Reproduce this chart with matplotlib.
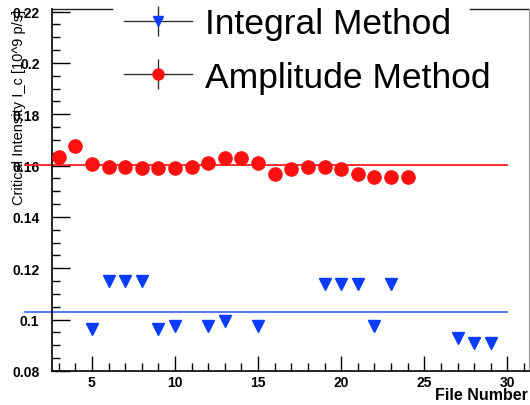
import matplotlib.pyplot as plt
from matplotlib.lines import Line2D

plt.rcParams['font.family'] = ['Liberation Sans', 'DejaVu Sans']

# amplitude method
amp_files = [3, 4, 5, 6, 7, 8, 9, 10, 11, 12, 13, 14, 15, 16, 17, 18, 19, 20, 21, 22, 23, 24]
amp_values = [0.1635, 0.1675, 0.1607, 0.1596, 0.1596, 0.1591, 0.1591, 0.1591, 0.1596, 0.1609,
              0.1630, 0.1630, 0.1609, 0.1568, 0.1587, 0.1593, 0.1593, 0.1587, 0.1568, 0.1557,
              0.1557, 0.1557]
amp_fit = 0.1603

# integral method
int_files = [5, 6, 7, 8, 9, 10, 12, 13, 15, 19, 20, 21, 22, 23, 27, 28, 29]
int_values = [0.0962, 0.1151, 0.1151, 0.1151, 0.0965, 0.0975, 0.0975, 0.0995, 0.0975,
              0.1138, 0.1138, 0.1138, 0.0975, 0.1138, 0.0930, 0.0911, 0.0911]
int_fit = 0.1028

fit_range = [1, 30]

red = '#ff1010'
blue = '#0a3cff'

fig = plt.figure(figsize=(5.3, 4.06), dpi=100)
ax = fig.add_axes([52/530, 34/406, 477/530, 362/406])

ax.plot(fit_range, [amp_fit, amp_fit], color='#ff2020', lw=1.3, clip_on=False, zorder=2)
ax.plot(fit_range, [int_fit, int_fit], color='#3a60ff', lw=1.2, clip_on=False, zorder=2)
ax.plot(amp_files, amp_values, 'o', color=red, ms=9.5, mec=red, zorder=3)
ax.plot(int_files, int_values, 'v', color=blue, ms=9, mec=blue, zorder=3)

ax.set_xlim(2.6, 31.3)
ax.set_ylim(0.08, 0.221)
ax.set_xticks([5, 10, 15, 20, 25, 30])
ax.set_xticks(range(3, 32), minor=True)
ax.set_yticks([0.08, 0.1, 0.12, 0.14, 0.16, 0.18, 0.2, 0.22])
ax.set_yticklabels(['0.08', '0.1', '0.12', '0.14', '0.16', '0.18', '0.2', '0.22'])
ax.set_yticks([0.08 + 0.005 * i for i in range(29)], minor=True)
ax.tick_params(which='both', direction='in', top=False, right=False, labelsize=10,
               width=1, color='black')
for lab in ax.get_xticklabels() + ax.get_yticklabels():
    lab.set_fontweight('bold')
ax.tick_params(axis='y', which='major', length=13, pad=9)
ax.tick_params(axis='y', which='minor', length=6)
ax.tick_params(axis='x', which='major', length=11, pad=3)
ax.tick_params(axis='x', which='minor', length=6)
for s in ['left', 'bottom']:
    ax.spines[s].set_color('black')
    ax.spines[s].set_linewidth(1.2)
ax.spines['top'].set_visible(False)
ax.spines['right'].set_color('#999999')
# top frame, broken where the legend sits
ax.plot([0, 0.126], [1, 1], color='#222222', lw=1, transform=ax.transAxes, clip_on=False)
ax.plot([0.876, 1], [1, 1], color='#222222', lw=1, transform=ax.transAxes, clip_on=False)

fig.text(19/530, 1 - 10/406, 'Critical Intensity I_c [10^9 p/s]', rotation=90,
         ha='center', va='top', fontsize=10.5)
fig.text(528/530, 1 - 396/406, 'File Number', ha='right', va='center', fontsize=11.5,
         fontweight='bold')

h_int = (Line2D([0], [0], color='#333333', lw=1),
         Line2D([0], [0], marker='|', color='#333333', ls='none', ms=22, mew=1),
         Line2D([0], [0], marker='v', color=blue, ls='none', ms=7))
h_amp = (Line2D([0], [0], color='#333333', lw=1),
         Line2D([0], [0], marker='|', color='#333333', ls='none', ms=22, mew=1),
         Line2D([0], [0], marker='o', color=red, ls='none', ms=8))
leg = ax.legend([h_int, h_amp], ['Integral Method', 'Amplitude Method'],
                loc='upper left', bbox_to_anchor=(119/530, 1 - 3/406),
                bbox_transform=fig.transFigure,
                fontsize=25.5, frameon=False, borderpad=0.15, handlelength=1.9,
                handletextpad=0.37, labelspacing=0.58, borderaxespad=0)
leg.set_zorder(5)

fig.savefig('out.png', dpi=100)
